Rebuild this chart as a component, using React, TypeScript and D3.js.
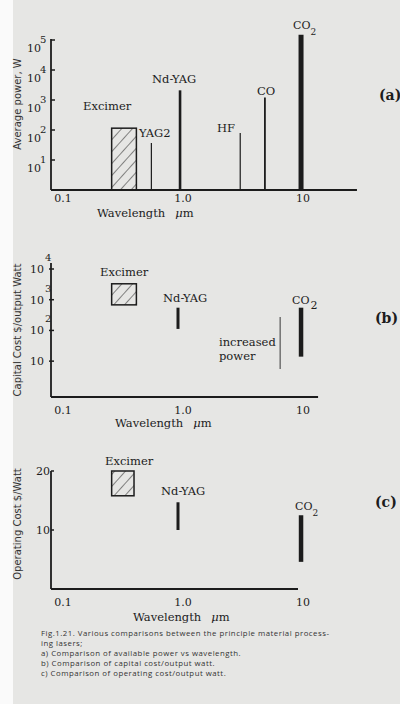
import React from 'react';
import * as d3 from 'd3';

// shared wavelength axis (µm)
const xTicks = [0.1, 1.0, 10];
const xTickLabels = ['0.1', '1.0', '10'];

// (a) average power, W
const powerLasers = ['YAG2', 'Nd-YAG', 'HF', 'CO', 'CO2'];
const powerWavelengths = [0.6, 1.04, 3.3, 5.3, 10.6];
const powerWatts = [37, 2100, 80, 1200, 150000];
const powerExcimerBand = [0.28, 0.45];
const powerExcimerWatts = [1, 115];
const powerTicks = [10, 100, 1000, 10000, 100000];
const powerTickExp = ['1', '2', '3', '4', '5'];

// (b) capital cost $/output watt
const capitalLasers = ['Nd-YAG', 'CO2'];
const capitalWavelengths = [1.0, 10.6];
const capitalLow = [112, 14];
const capitalHigh = [550, 550];
const capitalExcimerBand = [0.28, 0.45];
const capitalExcimerCost = [680, 3300];
const increasedPower = { wl: 7.1, range: [5.6, 275] };
const capitalTicks = [10, 100, 1000, 10000];
const capitalTickExp = ['', '2', '3', '4'];

// (c) operating cost $/watt
const opLasers = ['Nd-YAG', 'CO2'];
const opWavelengths = [1.0, 10.6];
const opLow = [10, 4.6];
const opHigh = [14.7, 12.5];
const opExcimerBand = [0.28, 0.43];
const opExcimerCost = [15.8, 20];
const opTicks = [10, 20];

const caption = [
  'Fig.1.21. Various comparisons between the principle material process-',
  'ing lasers;',
  'a) Comparison of available power vs wavelength.',
  'b) Comparison of capital cost/output watt.',
  'c) Comparison of operating cost/output watt.',
];

const ink = '#1c1c1c';
const serif = '"DejaVu Serif", serif';
const sans = '"DejaVu Sans", sans-serif';
const fs = 11.5;

const x = d3.scaleLog().domain([0.1, 10]).range([58, 298]);
const yA = d3.scaleLog().domain([1, 1e5]).range([190, 40]);
const yB = d3.scaleLog().domain([0.68, 1e4]).range([397, 269]);
const yC = d3.scaleLinear().domain([0, 20]).range([589, 471]);
const axisX = 51;

const lineWidthA: Record<string, number> = { YAG2: 1.2, 'Nd-YAG': 2.6, HF: 1.2, CO: 1.8, CO2: 5 };

const Label = ({ x0, y0, children }: any) => (
  <text x={x0} y={y0} fontSize={fs} fontFamily={serif} fill={ink}>{children}</text>
);

const XAxis = ({ y0, xEnd, labelY, titleX, titleY }: any) => (
  <g>
    <line x1={axisX} x2={x(xEnd)} y1={y0} y2={y0} stroke={ink} strokeWidth={1.8} />
    {xTicks.map((t, i) => (
      <text key={t} x={x(t) + 5} y={labelY} textAnchor="middle" fontSize={11} fontFamily={serif} fill={ink}>
        {xTickLabels[i]}
      </text>
    ))}
    <text x={titleX} y={titleY} fontSize={fs} fontFamily={serif} fill={ink}>
      Wavelength<tspan dx={10} fontStyle="italic">μ</tspan>m
    </text>
  </g>
);

const Sub2 = ({ x0, y0, dx, dy, size }: any) => (
  <text x={x0} y={y0} fontSize={11} fontFamily={serif} fill={ink}>
    CO<tspan dx={dx} dy={dy} fontSize={size}>2</tspan>
  </text>
);

const App = () => {
  return (
    <div style={{ position: 'absolute', left: 0, top: 0 }}>
      <svg width={400} height={704} style={{ display: 'block' }}>
        <defs>
          <pattern id="hatch" width={8} height={8} patternUnits="userSpaceOnUse" patternTransform="rotate(42)">
            <line x1={0} y1={0} x2={0} y2={8} stroke={ink} strokeWidth={1} />
          </pattern>
        </defs>
        <rect width={400} height={704} fill="#e6e6e4" />
        <rect width={13} height={704} fill="#fafafa" />

        {/* ---------- (a) ---------- */}
        <line x1={axisX} x2={axisX} y1={yA(1e5) - 1} y2={yA(1)} stroke={ink} strokeWidth={1.8} />
        {powerTicks.map((t, i) => (
          <g key={t}>
            <line x1={axisX} x2={axisX + 4} y1={yA(t)} y2={yA(t)} stroke={ink} strokeWidth={1.5} />
            <text x={41} y={yA(t) + 12} textAnchor="end" fontSize={11} fontFamily={serif} fill={ink}>10</text>
            <text x={40} y={yA(t) + 3} fontSize={10} fontFamily={serif} fill={ink}>{powerTickExp[i]}</text>
          </g>
        ))}
        <XAxis y0={yA(1)} xEnd={31} labelY={202} titleX={97} titleY={217} />
        <rect
          x={x(powerExcimerBand[0])}
          width={x(powerExcimerBand[1]) - x(powerExcimerBand[0])}
          y={yA(powerExcimerWatts[1])}
          height={yA(powerExcimerWatts[0]) - yA(powerExcimerWatts[1])}
          fill="url(#hatch)"
          stroke={ink}
          strokeWidth={1.5}
        />
        {powerLasers.map((name, i) => (
          <line
            key={name}
            x1={x(powerWavelengths[i])}
            x2={x(powerWavelengths[i])}
            y1={yA(1)}
            y2={yA(powerWatts[i])}
            stroke={ink}
            strokeWidth={lineWidthA[name]}
          />
        ))}
        <Label x0={83} y0={110}>Excimer</Label>
        <Label x0={139} y0={137}>YAG2</Label>
        <Label x0={152} y0={83}>Nd-YAG</Label>
        <Label x0={217} y0={132}>HF</Label>
        <Label x0={257} y0={95}>CO</Label>
        <Sub2 x0={293} y0={29} dx={0} dy={6} size={9} />
        <text x={379} y={100} fontSize={14} fontWeight="bold" fontFamily={serif} fill={ink}>(a)</text>
        <text transform={`translate(21,104) rotate(-90)`} textAnchor="middle" fontSize={10} fontFamily={sans} fill="#333">
          Average power, W
        </text>

        {/* ---------- (b) ---------- */}
        <line x1={axisX} x2={axisX} y1={yB(1e4) - 6} y2={yB(0.68)} stroke={ink} strokeWidth={1.8} />
        {capitalTicks.map((t, i) => (
          <g key={t}>
            <line x1={axisX - 2} x2={axisX + 3} y1={yB(t)} y2={yB(t)} stroke={ink} strokeWidth={1.5} />
            <text x={44} y={yB(t) + 4} textAnchor="end" fontSize={11} fontFamily={serif} fill={ink}>10</text>
            <text x={45} y={yB(t) - 8} fontSize={10} fontFamily={serif} fill={ink}>{capitalTickExp[i]}</text>
          </g>
        ))}
        <XAxis y0={yB(0.68)} xEnd={14.7} labelY={414} titleX={115} titleY={427} />
        <rect
          x={x(capitalExcimerBand[0])}
          width={x(capitalExcimerBand[1]) - x(capitalExcimerBand[0])}
          y={yB(capitalExcimerCost[1])}
          height={yB(capitalExcimerCost[0]) - yB(capitalExcimerCost[1])}
          fill="url(#hatch)"
          stroke={ink}
          strokeWidth={1.5}
        />
        {capitalLasers.map((name, i) => (
          <line
            key={name}
            x1={x(capitalWavelengths[i])}
            x2={x(capitalWavelengths[i])}
            y1={yB(capitalLow[i])}
            y2={yB(capitalHigh[i])}
            stroke={ink}
            strokeWidth={name === 'CO2' ? 4.5 : 3}
          />
        ))}
        <line
          x1={x(increasedPower.wl)}
          x2={x(increasedPower.wl)}
          y1={yB(increasedPower.range[0])}
          y2={yB(increasedPower.range[1])}
          stroke="#555"
          strokeWidth={1.2}
        />
        <Label x0={100} y0={276}>Excimer</Label>
        <Label x0={163} y0={302}>Nd-YAG</Label>
        <Sub2 x0={292} y0={304} dx={1} dy={5} size={11} />
        <Label x0={219} y0={346}>increased</Label>
        <Label x0={219} y0={360}>power</Label>
        <text x={375} y={323} fontSize={14} fontWeight="bold" fontFamily={serif} fill={ink}>(b)</text>
        <text transform={`translate(21,330) rotate(-90)`} textAnchor="middle" fontSize={10} fontFamily={sans} fill="#333">
          Capital Cost $/output Watt
        </text>

        {/* ---------- (c) ---------- */}
        <line x1={axisX} x2={axisX} y1={yC(20)} y2={yC(0)} stroke={ink} strokeWidth={1.8} />
        {opTicks.map((t) => (
          <g key={t}>
            <line x1={axisX} x2={axisX + 3} y1={yC(t)} y2={yC(t)} stroke={ink} strokeWidth={1.5} />
            <text x={50} y={yC(t) + 4} textAnchor="end" fontSize={11} fontFamily={serif} fill={ink}>{t}</text>
          </g>
        ))}
        <XAxis y0={yC(0)} xEnd={10} labelY={606} titleX={133} titleY={621} />
        <rect
          x={x(opExcimerBand[0])}
          width={x(opExcimerBand[1]) - x(opExcimerBand[0])}
          y={yC(opExcimerCost[1])}
          height={yC(opExcimerCost[0]) - yC(opExcimerCost[1])}
          fill="url(#hatch)"
          stroke={ink}
          strokeWidth={1.5}
        />
        {opLasers.map((name, i) => (
          <line
            key={name}
            x1={x(opWavelengths[i])}
            x2={x(opWavelengths[i])}
            y1={yC(opLow[i])}
            y2={yC(opHigh[i])}
            stroke={ink}
            strokeWidth={name === 'CO2' ? 4.5 : 3}
          />
        ))}
        <Label x0={105} y0={465}>Excimer</Label>
        <Label x0={161} y0={495}>Nd-YAG</Label>
        <Sub2 x0={295} y0={510} dx={0} dy={6} size={9} />
        <text x={375} y={507} fontSize={14} fontWeight="bold" fontFamily={serif} fill={ink}>(c)</text>
        <text transform={`translate(21,524) rotate(-90)`} textAnchor="middle" fontSize={10} fontFamily={sans} fill="#333">
          Operating Cost  $/Watt
        </text>

        {/* ---------- caption ---------- */}
        {caption.map((line, i) => (
          <text
            key={i}
            x={41}
            y={636 + i * 10}
            fontSize={7.8}
            letterSpacing={0.5}
            fontFamily='"Open Sans", sans-serif'
            fill="#333"
          >
            {line}
          </text>
        ))}
      </svg>
    </div>
  );
};

export default App;
